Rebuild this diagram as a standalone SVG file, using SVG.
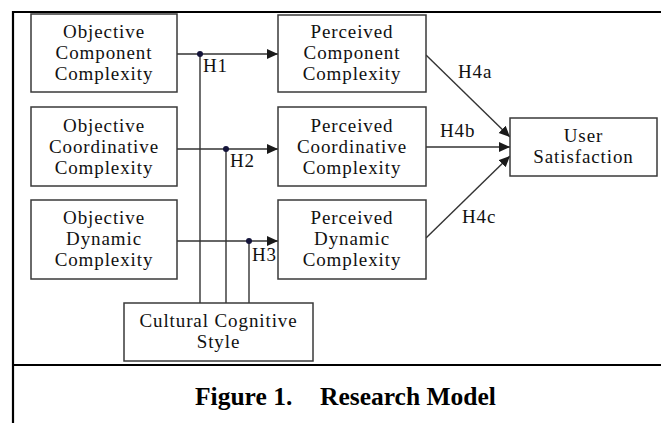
<svg xmlns="http://www.w3.org/2000/svg" width="661" height="423" viewBox="0 0 661 423">
<style>
.box{fill:#fff;stroke:#3a3a3a;stroke-width:1.5}
.t{font-family:"Liberation Serif","Times New Roman",serif;font-size:19px;letter-spacing:0.9px;fill:#111;text-anchor:middle}
.lbl{font-family:"Liberation Serif","Times New Roman",serif;font-size:19px;letter-spacing:0.9px;fill:#111}
.ln{stroke:#333;stroke-width:1.4;fill:none}
.dot{fill:#14143a}
.frame{stroke:#000;stroke-width:2.2}
.cap{font-family:"Liberation Serif","Times New Roman",serif;font-size:25.5px;font-weight:bold;fill:#000}
</style>
<defs>
<marker id="arr" markerUnits="userSpaceOnUse" markerWidth="12" markerHeight="11" refX="11" refY="5" orient="auto">
<path d="M0,0 L11,5 L0,10 z" fill="#1a1a1a"/>
</marker>
</defs>
<rect width="661" height="423" fill="#fff"/>
<g id="frame">
<line class="frame" x1="12" y1="12" x2="661" y2="12"/>
<line class="frame" x1="13" y1="11" x2="13" y2="423"/>
<line class="frame" x1="13" y1="365" x2="661" y2="365"/>
</g>
<g id="connectors">
<line class="ln" x1="177" y1="54" x2="278" y2="54" marker-end="url(#arr)"/>
<line class="ln" x1="200" y1="54" x2="200" y2="303"/>
<circle class="dot" cx="200" cy="54" r="3"/>
<line class="ln" x1="177" y1="149" x2="278" y2="149" marker-end="url(#arr)"/>
<line class="ln" x1="226" y1="149" x2="226" y2="303"/>
<circle class="dot" cx="226" cy="149" r="3"/>
<line class="ln" x1="177" y1="241" x2="278" y2="241" marker-end="url(#arr)"/>
<line class="ln" x1="249" y1="241" x2="249" y2="303"/>
<circle class="dot" cx="249" cy="241" r="3"/>
<line class="ln" x1="426" y1="55" x2="510" y2="137" marker-end="url(#arr)"/>
<line class="ln" x1="426" y1="147" x2="510" y2="147" marker-end="url(#arr)"/>
<line class="ln" x1="426" y1="238" x2="510" y2="156" marker-end="url(#arr)"/>
<text class="lbl" x="203" y="72">H1</text>
<text class="lbl" x="230" y="167">H2</text>
<text class="lbl" x="252" y="261">H3</text>
<text class="lbl" x="458" y="78">H4a</text>
<text class="lbl" x="440" y="137">H4b</text>
<text class="lbl" x="462" y="223">H4c</text>
</g>
<g id="obj-component">
<rect class="box" x="31" y="14" width="146" height="78"/>
<text class="t" x="104" y="38">Objective</text>
<text class="t" x="104" y="59">Component</text>
<text class="t" x="104" y="80">Complexity</text>
</g>
<g id="obj-coordinative">
<rect class="box" x="31" y="107" width="146" height="79"/>
<text class="t" x="104" y="132">Objective</text>
<text class="t" x="104" y="153">Coordinative</text>
<text class="t" x="104" y="174">Complexity</text>
</g>
<g id="obj-dynamic">
<rect class="box" x="31" y="200" width="146" height="79"/>
<text class="t" x="104" y="224">Objective</text>
<text class="t" x="104" y="245">Dynamic</text>
<text class="t" x="104" y="266">Complexity</text>
</g>
<g id="per-component">
<rect class="box" x="278" y="15" width="148" height="77"/>
<text class="t" x="352" y="38">Perceived</text>
<text class="t" x="352" y="59">Component</text>
<text class="t" x="352" y="80">Complexity</text>
</g>
<g id="per-coordinative">
<rect class="box" x="278" y="107" width="148" height="79"/>
<text class="t" x="352" y="132">Perceived</text>
<text class="t" x="352" y="153">Coordinative</text>
<text class="t" x="352" y="174">Complexity</text>
</g>
<g id="per-dynamic">
<rect class="box" x="278" y="200" width="148" height="79"/>
<text class="t" x="352" y="224">Perceived</text>
<text class="t" x="352" y="245">Dynamic</text>
<text class="t" x="352" y="266">Complexity</text>
</g>
<g id="user-satisfaction">
<rect class="box" x="510" y="118" width="147" height="58"/>
<text class="t" x="583.5" y="142">User</text>
<text class="t" x="583.5" y="163">Satisfaction</text>
</g>
<g id="cultural">
<rect class="box" x="124" y="303" width="189" height="58"/>
<text class="t" x="218.5" y="327">Cultural Cognitive</text>
<text class="t" x="218.5" y="348">Style</text>
</g>
<g id="caption">
<text class="cap" y="405"><tspan x="195">Figure 1.</tspan><tspan x="320">Research Model</tspan></text>
</g>
</svg>
